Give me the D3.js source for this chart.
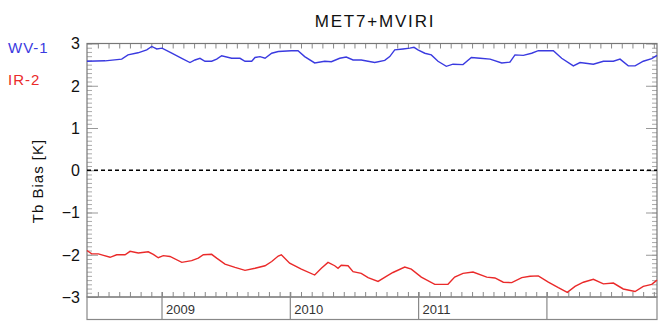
<!DOCTYPE html>
<html>
<head>
<meta charset="utf-8">
<script src="https://cdn.jsdelivr.net/npm/d3@7"></script>
<style>
  body { margin: 0; background: #fff; }
  svg { display: block; font-family: 'Liberation Sans', Arial, sans-serif; }
</style>
</head>
<body>
<div id="chart"></div>
<script>
// time in decimal years
var wvTime = [2008.415, 2008.556, 2008.686, 2008.735, 2008.813, 2008.881, 2008.920, 2008.959, 2009.000,
    2009.076, 2009.154, 2009.218, 2009.257, 2009.296, 2009.335, 2009.387, 2009.426, 2009.465, 2009.543,
    2009.608, 2009.647, 2009.699, 2009.725, 2009.764, 2009.803, 2009.855, 2009.906, 2010.008, 2010.060,
    2010.112, 2010.190, 2010.268, 2010.320, 2010.385, 2010.436, 2010.489, 2010.553, 2010.658, 2010.736,
    2010.775, 2010.814, 2010.878, 2010.931, 2010.964, 2010.995, 2011.048, 2011.099, 2011.151, 2011.216,
    2011.268, 2011.346, 2011.411, 2011.479, 2011.557, 2011.648, 2011.712, 2011.751, 2011.816, 2011.881,
    2011.933, 2012.050, 2012.115, 2012.206, 2012.258, 2012.362, 2012.440, 2012.518, 2012.570, 2012.634,
    2012.687, 2012.751, 2012.817, 2012.858]
var wvBias = [2.58, 2.59, 2.63, 2.73, 2.78, 2.85, 2.93, 2.87, 2.89,
    2.77, 2.65, 2.55, 2.61, 2.65, 2.58, 2.58, 2.63, 2.71, 2.65,
    2.65, 2.58, 2.58, 2.67, 2.69, 2.65, 2.77, 2.81, 2.83, 2.83,
    2.69, 2.54, 2.58, 2.57, 2.65, 2.68, 2.61, 2.61, 2.55, 2.60,
    2.69, 2.85, 2.87, 2.89, 2.91, 2.85, 2.77, 2.73, 2.58, 2.46,
    2.51, 2.50, 2.67, 2.65, 2.63, 2.54, 2.56, 2.73, 2.72, 2.77,
    2.83, 2.83, 2.65, 2.47, 2.55, 2.51, 2.58, 2.58, 2.63, 2.47,
    2.47, 2.58, 2.64, 2.72]

var irTime = [2008.415, 2008.452, 2008.504, 2008.595, 2008.647, 2008.712, 2008.751, 2008.815, 2008.893,
    2008.932, 2008.971, 2009.010, 2009.062, 2009.154, 2009.231, 2009.283, 2009.322, 2009.387, 2009.426,
    2009.491, 2009.569, 2009.647, 2009.725, 2009.803, 2009.855, 2009.906, 2009.930, 2009.995, 2010.086,
    2010.190, 2010.242, 2010.294, 2010.346, 2010.372, 2010.397, 2010.450, 2010.489, 2010.553, 2010.606,
    2010.684, 2010.748, 2010.800, 2010.892, 2010.943, 2011.021, 2011.126, 2011.229, 2011.281, 2011.346,
    2011.424, 2011.531, 2011.595, 2011.660, 2011.726, 2011.804, 2011.868, 2011.933, 2012.011, 2012.089,
    2012.159, 2012.219, 2012.284, 2012.362, 2012.440, 2012.518, 2012.595, 2012.687, 2012.751, 2012.817,
    2012.858]
var irBias = [-1.90, -1.98, -1.98, -2.06, -2.00, -2.00, -1.92, -1.96, -1.93,
    -1.99, -2.07, -2.02, -2.04, -2.18, -2.14, -2.08, -2.00, -1.99, -2.08,
    -2.22, -2.30, -2.37, -2.32, -2.26, -2.16, -2.03, -2.00, -2.20, -2.34,
    -2.48, -2.32, -2.18, -2.26, -2.32, -2.25, -2.26, -2.40, -2.44, -2.54,
    -2.63, -2.51, -2.42, -2.29, -2.34, -2.53, -2.70, -2.70, -2.53, -2.44,
    -2.41, -2.53, -2.55, -2.65, -2.66, -2.54, -2.51, -2.50, -2.65, -2.78,
    -2.89, -2.75, -2.65, -2.58, -2.69, -2.67, -2.81, -2.87, -2.75, -2.70,
    -2.60]

var yearTicks = [2009, 2010, 2011, 2012]
var yearLabels = ['2009', '2010', '2011', '']
var biasTicks = [-3, -2, -1, 0, 1, 2, 3]
var seriesNames = ['WV-1', 'IR-2']

var width = 658, height = 323
var plotLeft = 87, plotRight = 657, plotTop = 43.5, plotBottom = 297, boxBottom = 319.5

var x = d3.scaleLinear()
    .domain([2008.4154, 2012.858])
    .range([plotLeft, plotRight])

var y = d3.scaleLinear()
    .domain([-3, 3])
    .range([plotBottom, plotTop])

var svg = d3.select('#chart').append('svg')
    .attr('width', width)
    .attr('height', height)

var months = d3.range(2008 * 12 + 6, 2012 * 12 + 11).map(function (m) { return m / 12 })
var minorY = d3.range(-30, 31).map(function (v) { return v / 10 })

function styleAxis(g, col) {
    g.select('.domain').remove()
    g.selectAll('.tick line').attr('stroke', col).attr('stroke-width', 1)
    g.selectAll('text').remove()
}

// minor y ticks, left and right
svg.append('g').attr('transform', 'translate(' + plotLeft + ',0)')
    .call(d3.axisRight(y).tickValues(minorY).tickSize(5).tickFormat(''))
    .call(styleAxis, '#aaa')
svg.append('g').attr('transform', 'translate(' + plotRight + ',0)')
    .call(d3.axisLeft(y).tickValues(minorY).tickSize(5).tickFormat(''))
    .call(styleAxis, '#aaa')
// major y ticks
svg.append('g').attr('transform', 'translate(' + plotLeft + ',0)')
    .call(d3.axisRight(y).tickValues(biasTicks).tickSize(11).tickFormat(''))
    .call(styleAxis, '#999')
svg.append('g').attr('transform', 'translate(' + plotRight + ',0)')
    .call(d3.axisLeft(y).tickValues(biasTicks).tickSize(11).tickFormat(''))
    .call(styleAxis, '#999')

// month ticks top and bottom
svg.append('g').attr('transform', 'translate(0,' + plotTop + ')')
    .call(d3.axisBottom(x).tickValues(months).tickSize(5).tickFormat(''))
    .call(styleAxis, '#888')
svg.append('g').attr('transform', 'translate(0,' + plotBottom + ')')
    .call(d3.axisTop(x).tickValues(months).tickSize(5).tickFormat(''))
    .call(styleAxis, '#888')

// y labels
svg.append('g').selectAll('text')
    .data(biasTicks)
    .enter()
    .append('text')
    .attr('x', 80)
    .attr('y', function (d) { return y(d) })
    .attr('dy', '0.36em')
    .attr('text-anchor', 'end')
    .style('font-size', '16px')
    .style('fill', '#111')
    .text(function (d) { return d < 0 ? '\u2212' + Math.abs(d) : d })

// frame
svg.append('rect')
    .attr('x', plotLeft).attr('y', plotTop)
    .attr('width', plotRight - plotLeft).attr('height', plotBottom - plotTop)
    .attr('fill', 'none').attr('stroke', '#777').attr('stroke-width', 1.2)

// year box below
svg.append('rect')
    .attr('x', plotLeft).attr('y', plotBottom)
    .attr('width', plotRight - plotLeft).attr('height', boxBottom - plotBottom)
    .attr('fill', 'none').attr('stroke', '#888').attr('stroke-width', 1.2)

svg.append('g').selectAll('line')
    .data(yearTicks)
    .enter()
    .append('line')
    .attr('x1', function (d) { return x(d) })
    .attr('x2', function (d) { return x(d) })
    .attr('y1', plotBottom - 5)
    .attr('y2', boxBottom)
    .attr('stroke', '#888')
    .attr('stroke-width', 1.2)

svg.append('g').selectAll('text')
    .data(yearTicks)
    .enter()
    .append('text')
    .attr('x', function (d) { return x(d) + 4 })
    .attr('y', 314)
    .style('font-size', '13px')
    .style('fill', '#333')
    .text(function (d, i) { return yearLabels[i] })

// zero line
svg.append('line')
    .attr('x1', plotLeft).attr('x2', plotRight)
    .attr('y1', y(0)).attr('y2', y(0))
    .attr('stroke', '#000')
    .attr('stroke-width', 1.3)
    .attr('stroke-dasharray', '4,3')

var line = d3.line()
    .x(function (d) { return x(d[0]) })
    .y(function (d) { return y(d[1]) })

svg.append('path')
    .datum(d3.zip(wvTime, wvBias))
    .attr('d', line)
    .attr('fill', 'none')
    .attr('stroke', '#3a3ae0')
    .attr('stroke-width', 1.4)

svg.append('path')
    .datum(d3.zip(irTime, irBias))
    .attr('d', line)
    .attr('fill', 'none')
    .attr('stroke', '#ea2a2a')
    .attr('stroke-width', 1.4)

// title, legend, axis title
svg.append('text')
    .attr('x', 375).attr('y', 27)
    .attr('text-anchor', 'middle')
    .style('font-size', '17px')
    .style('letter-spacing', '1.8px')
    .style('fill', '#111')
    .text('MET7+MVIRI')

svg.append('g').selectAll('text')
    .data(seriesNames)
    .enter()
    .append('text')
    .attr('x', 8)
    .attr('y', function (d, i) { return 53 + i * 32 })
    .style('font-size', '15px')
    .style('letter-spacing', '1px')
    .style('fill', function (d, i) { return i === 0 ? '#3a3ae0' : '#ea2a2a' })
    .text(function (d) { return d })

svg.append('text')
    .attr('transform', 'translate(43,181) rotate(-90)')
    .attr('text-anchor', 'middle')
    .style('font-size', '15px')
    .style('letter-spacing', '1px')
    .style('fill', '#111')
    .text('Tb Bias [K]')
</script>
</body>
</html>
